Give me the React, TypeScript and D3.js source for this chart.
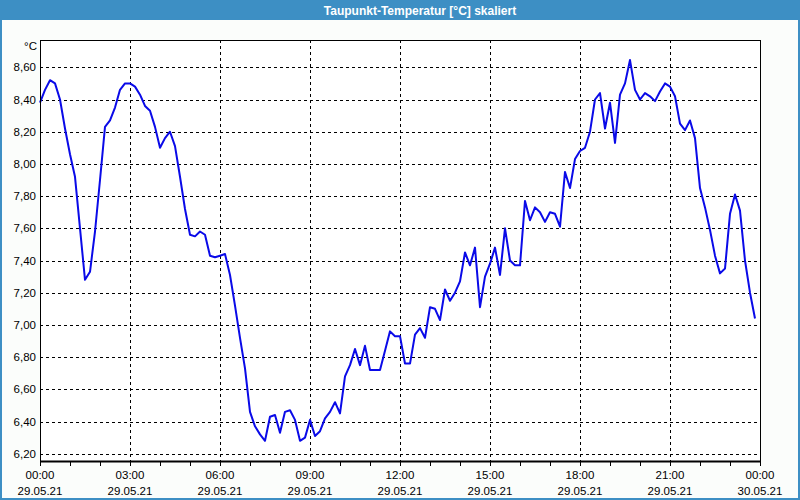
import React from "react";
import * as d3 from "d3";

const title = "Taupunkt-Temperatur [°C] skaliert";
const unitLabel = "°C";
// 10-minute samples starting 29.05.21 00:00
const startTime = new Date(2021, 4, 29, 0, 0);
const values: number[] = [
  8.38, 8.46, 8.52, 8.50, 8.40, 8.22, 8.06, 7.92, 7.60, 7.28,
  7.33, 7.58, 7.90, 8.23, 8.27, 8.35, 8.46, 8.50, 8.50, 8.48,
  8.43, 8.36, 8.33, 8.23, 8.10, 8.16, 8.20, 8.11, 7.92, 7.72,
  7.56, 7.55, 7.58, 7.56, 7.43, 7.42, 7.43, 7.44, 7.31, 7.12,
  6.92, 6.73, 6.46, 6.37, 6.32, 6.28, 6.43, 6.44, 6.33, 6.46,
  6.47, 6.41, 6.28, 6.30, 6.41, 6.31, 6.34, 6.42, 6.46, 6.52,
  6.45, 6.68, 6.75, 6.85, 6.75, 6.87, 6.72, 6.72, 6.72, 6.84,
  6.96, 6.93, 6.93, 6.76, 6.76, 6.94, 6.98, 6.92, 7.11, 7.10,
  7.03, 7.22, 7.15, 7.20, 7.27, 7.45, 7.37, 7.48, 7.11, 7.30,
  7.38, 7.48, 7.31, 7.60, 7.40, 7.37, 7.37, 7.77, 7.65, 7.73,
  7.70, 7.64, 7.70, 7.69, 7.61, 7.95, 7.85, 8.03, 8.08, 8.10,
  8.20, 8.40, 8.44, 8.22, 8.38, 8.13, 8.43, 8.50, 8.645, 8.46,
  8.40, 8.44, 8.42, 8.39, 8.45, 8.50, 8.48, 8.42, 8.25, 8.21,
  8.27, 8.16, 7.85, 7.73, 7.59, 7.43, 7.32, 7.35, 7.69, 7.81,
  7.71, 7.40, 7.20, 7.04,
];
const yTicks: number[] = [6.2, 6.4, 6.6, 6.8, 7.0, 7.2, 7.4, 7.6, 7.8, 8.0, 8.2, 8.4, 8.6];
const xTickHours: number[] = [0, 3, 6, 9, 12, 15, 18, 21, 24];

const W = 800;
const H = 500;
const L = 40, R = 760, T = 40, B = 461;

export default function App() {
  const data = values.map((v, i) => ({ t: new Date(startTime.getTime() + i * 600000), v }));
  const x = d3.scaleTime()
    .domain([startTime, new Date(startTime.getTime() + 24 * 3600000)])
    .range([L, R]);
  const y = d3.scaleLinear().domain([6.1547, 8.7696]).range([B, T]);
  const line = d3.line<{ t: Date; v: number }>().x(d => x(d.t)).y(d => y(d.v));
  const hourTicks = d3.range(0, 25).map(h => new Date(startTime.getTime() + h * 3600000));
  const fmtTime = d3.timeFormat("%H:%M");
  const fmtDate = d3.timeFormat("%d.%m.%y");
  const fmtY = (v: number) => v.toFixed(2).replace(".", ",");
  const font = "'Liberation Sans', Arial, sans-serif";

  return (
    <svg width={W} height={H} style={{ position: "absolute", left: 0, top: 0 }} fontFamily={font}>
      <rect x={0} y={0} width={W} height={H} fill="#3d8fc4" />
      <rect x={2} y={20} width={W - 4} height={H - 22} fill="#fbfdfb" />
      <text x={420} y={15} textAnchor="middle" fill="#ffffff" fontWeight="bold" fontSize={12}>{title}</text>
      <rect x={L} y={T} width={R - L} height={B - T} fill="#ffffff" />
      {/* horizontal grid */}
      {yTicks.map(v => (
        <line key={"h" + v} x1={L} x2={R} y1={Math.round(y(v)) + 0.5} y2={Math.round(y(v)) + 0.5}
          stroke="#000" strokeDasharray="3,3" strokeWidth={1} />
      ))}
      {/* vertical grid */}
      {xTickHours.slice(1, -1).map(h => {
        const xx = Math.round(x(new Date(startTime.getTime() + h * 3600000))) + 0.5;
        return <line key={"v" + h} x1={xx} x2={xx} y1={T} y2={B} stroke="#000" strokeDasharray="3,3" strokeWidth={1} />;
      })}
      {/* data line */}
      <path d={line(data) || ""} fill="none" stroke="#0a0ae8" strokeWidth={2} strokeLinejoin="round" />
      {/* frame */}
      <rect x={L + 0.5} y={T + 0.5} width={R - L} height={B - T} fill="none" stroke="#000" strokeWidth={1} />
      <line x1={L} x2={R + 1} y1={B + 0.5} y2={B + 0.5} stroke="#000" strokeWidth={2} />
      {/* hour ticks */}
      {hourTicks.map((t, i) => {
        const xx = Math.round(x(t)) + 0.5;
        return <line key={"t" + i} x1={xx} x2={xx} y1={B} y2={B + 5} stroke="#000" strokeWidth={1} />;
      })}
      {/* y labels */}
      {yTicks.map(v => (
        <text key={"yl" + v} x={36} y={y(v) + 4} textAnchor="end" fontSize={11.5} fill="#000">{fmtY(v)}</text>
      ))}
      <text x={37} y={50} textAnchor="end" fontSize={11.5} fill="#000">{unitLabel}</text>
      {/* x labels */}
      {xTickHours.map(h => {
        const t = new Date(startTime.getTime() + h * 3600000);
        const xx = x(t);
        return (
          <g key={"xl" + h}>
            <text x={xx} y={479} textAnchor="middle" fontSize={11.5} fill="#000">{fmtTime(t)}</text>
            <text x={xx} y={495} textAnchor="middle" fontSize={11.5} fill="#000">{fmtDate(t)}</text>
          </g>
        );
      })}
    </svg>
  );
}
